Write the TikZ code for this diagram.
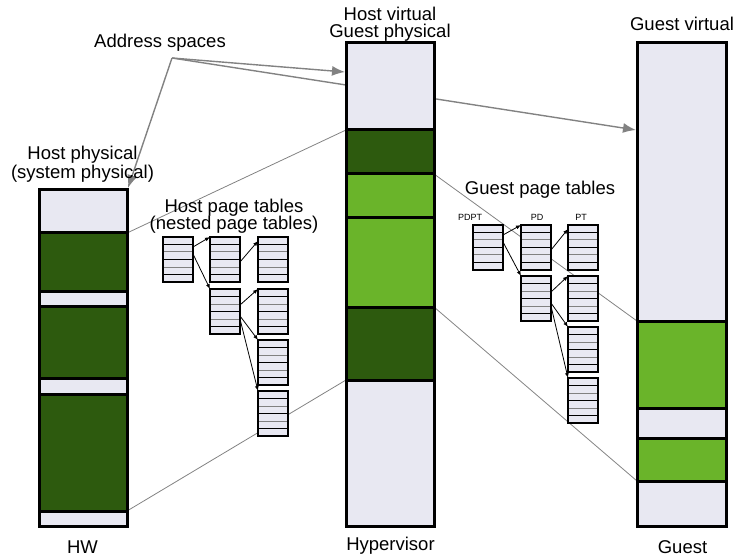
\documentclass[tikz,border=0pt]{standalone}
\usepackage{fontspec}
\setmainfont{Liberation Sans}
\usetikzlibrary{arrows.meta,backgrounds}
\definecolor{lite}{RGB}{232,232,242}
\definecolor{dkg}{RGB}{45,90,14}
\definecolor{ltg}{RGB}{106,180,42}
\definecolor{gline}{RGB}{130,130,130}
\begin{document}
\begin{tikzpicture}[x=1pt,y=-1pt,
  seg/.style={draw=black, line width=3pt, minimum width=88pt, inner sep=0pt, outer sep=0pt, anchor=north west},
  tab/.style={draw=black, line width=2.8pt, fill=lite, minimum width=30pt, minimum height=45pt, inner sep=0pt, outer sep=0pt, anchor=north west,
    path picture={
      \foreach \k in {1,3,5}{\draw[black,line width=1pt] ([yshift=-\k*7.5pt]path picture bounding box.north west) -- ([yshift=-\k*7.5pt]path picture bounding box.north east);}
      \foreach \k in {2,4}{\draw[gray,line width=1pt] ([yshift=-\k*7.5pt]path picture bounding box.north west) -- ([yshift=-\k*7.5pt]path picture bounding box.north east);}
    }},
  lbl/.style={font=\fontsize{18.5}{20}\selectfont, inner sep=0pt, anchor=base},
  small/.style={font=\fontsize{9}{10}\selectfont, inner sep=0pt, anchor=base},
  addr/.style={draw=gline, line width=1.4pt, -{Latex[length=13pt,width=10pt]}},
  map/.style={draw=gline, line width=0.8pt},
  tarr/.style={draw=black, line width=0.8pt, -{Latex[length=5pt,width=4pt]}}
]
\useasboundingbox (0,0) rectangle (739,556);

% HW column
\node[seg, fill=lite, minimum height=43pt] (hw0) at (39,190) {};
\node[seg, fill=dkg,  minimum height=58pt] (hw1) at (39,233) {};
\node[seg, fill=lite, minimum height=15pt] (hw2) at (39,291) {};
\node[seg, fill=dkg,  minimum height=72pt] (hw3) at (39,306) {};
\node[seg, fill=lite, minimum height=16pt] (hw4) at (39,378) {};
\node[seg, fill=dkg,  minimum height=117pt] (hw5) at (39,394) {};
\node[seg, fill=lite, minimum height=15pt] (hw6) at (39,511) {};

% Hypervisor column
\node[seg, fill=lite, minimum height=87pt] (hv0) at (346,43) {};
\node[seg, fill=dkg,  minimum height=44pt] (hv1) at (346,130) {};
\node[seg, fill=ltg,  minimum height=44pt] (hv2) at (346,174) {};
\node[seg, fill=ltg,  minimum height=89pt] (hv3) at (346,218) {};
\node[seg, fill=dkg,  minimum height=73pt] (hv4) at (346,307) {};
\node[seg, fill=lite, minimum height=146pt] (hv5) at (346,380) {};

% Guest column
\node[seg, fill=lite, minimum width=89pt, minimum height=278pt] (gv0) at (637,43) {};
\node[seg, fill=ltg,  minimum width=89pt, minimum height=87pt] (gv1) at (637,321) {};
\node[seg, fill=lite, minimum width=89pt, minimum height=30pt] (gv2) at (637,408) {};
\node[seg, fill=ltg,  minimum width=89pt, minimum height=43pt] (gv3) at (637,438) {};
\node[seg, fill=lite, minimum width=89pt, minimum height=45pt] (gv4) at (637,481) {};

% Host page tables
\node[tab] (h1) at (163,237) {};
\node[tab] (h2) at (210,237) {};
\node[tab] (h3) at (210,289) {};
\node[tab] (h4) at (258,237) {};
\node[tab] (h5) at (258,289) {};
\node[tab] (h6) at (258,340) {};
\node[tab] (h7) at (258,391) {};

% Guest page tables
\node[tab] (g1) at (473,225) {};
\node[tab] (g2) at (521,225) {};
\node[tab] (g3) at (521,276) {};
\node[tab] (g4) at (568,225) {};
\node[tab] (g5) at (568,276) {};
\node[tab] (g6) at (568,327) {};
\node[tab] (g7) at (568,378) {};

% table arrows
\draw[tarr] ([yshift=-10pt]h1.north east) -- (h2.north west);
\draw[tarr] ([yshift=-17pt]h1.north east) -- (h3.north west);
\draw[tarr] ([yshift=-25pt]h2.north east) -- ([yshift=-4pt]h4.north west);
\draw[tarr] ([yshift=-16pt]h3.north east) -- (h5.north west);
\draw[tarr] ([yshift=-27pt]h3.north east) -- (h6.north west);
\draw[tarr] ([yshift=-30pt]h3.north east) -- (h7.north west);

\draw[tarr] ([yshift=-10pt]g1.north east) -- (g2.north west);
\draw[tarr] ([yshift=-17pt]g1.north east) -- (g3.north west);
\draw[tarr] ([yshift=-25pt]g2.north east) -- ([yshift=-4pt]g4.north west);
\draw[tarr] ([yshift=-16pt]g3.north east) -- (g5.north west);
\draw[tarr] ([yshift=-27pt]g3.north east) -- (g6.north west);
\draw[tarr] ([yshift=-30pt]g3.north east) -- (g7.north west);

% background lines
\coordinate (as) at (172,58);
\coordinate (hvA) at (345,72);
\coordinate (gvA) at (636,130);
\begin{scope}[on background layer]
  \draw[addr] (as) -- ([xshift=1pt,yshift=2pt]hw0.north east);
  \draw[addr] (as) -- (hvA);
  \draw[addr] (as) -- (gvA);
  \draw[map] (hw1.north east) -- (hv1.north west);
  \draw[map] (hw6.north east) -- (hv5.north west);
  \draw[map] (hv2.north east) -- (gv1.north west);
  \draw[map] (hv4.north east) -- (gv4.north west);
\end{scope}

% labels
\node[lbl] (tAS) at (160,48) {Address spaces};
\node[lbl] (tHP1) at (82.5,160) {Host physical};
\node[lbl] (tHP2) at (82.5,179) {(system physical)};
\node[lbl] (tHV1) at (390,21) {Host virtual};
\node[lbl] (tHV2) at (390,38) {Guest physical};
\node[lbl] (tGV) at (682,31) {Guest virtual};
\node[lbl] (tHT1) at (234,213) {Host page tables};
\node[lbl] (tHT2) at (234,230) {(nested page tables)};
\node[lbl] (tGT) at (540,195) {Guest page tables};
\node[small] (tPDPT) at (470,221) {PDPT};
\node[small] (tPD) at (537,221) {PD};
\node[small] (tPT) at (581,221) {PT};
\node[lbl] (tHW) at (82.5,553) {HW};
\node[lbl] (tHyp) at (390.5,550) {Hypervisor};
\node[lbl] (tG) at (682.5,553) {Guest};
\end{tikzpicture}
\end{document}
